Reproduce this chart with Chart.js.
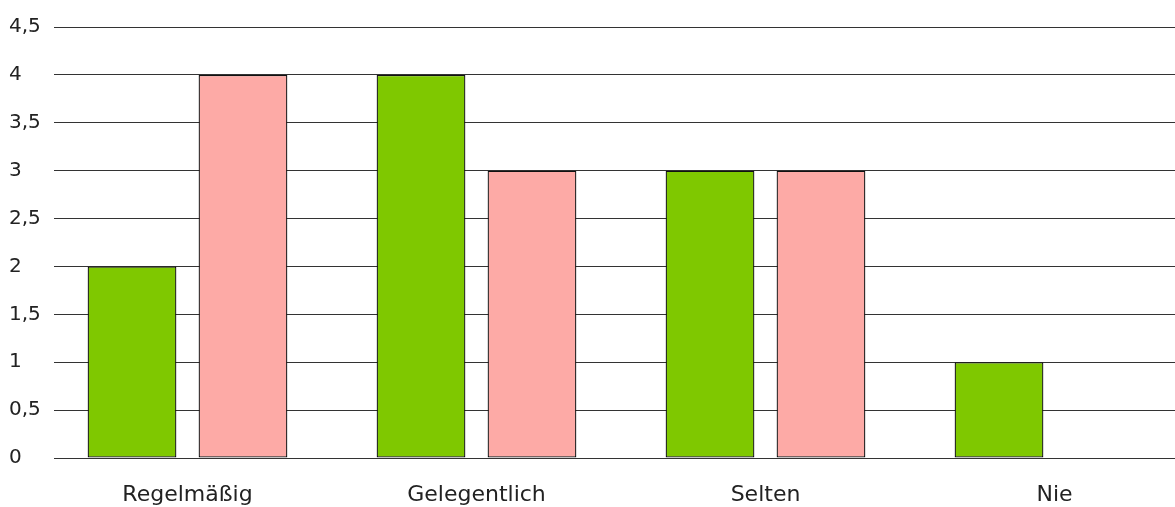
<!DOCTYPE html>
<html>
<head>
<meta charset="utf-8">
<script src="https://cdn.jsdelivr.net/npm/chart.js@4"></script>
<style>
  html, body { margin: 0; padding: 0; background: #fff; overflow: hidden; }
  #wrap { width: 1200px; height: 507px; }
</style>
</head>
<body>
<div id="wrap"><canvas id="barChart"></canvas></div>
<script>
// categories and values
const categories = ["Regelmäßig", "Gelegentlich", "Selten", "Nie"];
const greenValues = [2, 4, 3, 1];
const pinkValues = [4, 3, 3, 0];
const yTickLabels = ["0", "0,5", "1", "1,5", "2", "2,5", "3", "3,5", "4", "4,5"];

// grid lines start a bit right of the plot edge, leave a blank strip there
const gridInset = {
    id: 'gridInset',
    beforeDatasetsDraw(chart) {
        const { ctx, chartArea } = chart;
        ctx.save();
        ctx.fillStyle = '#fff';
        ctx.fillRect(chartArea.left - 1, chartArea.top - 2, 12, chartArea.bottom - chartArea.top + 4);
        ctx.restore();
    }
};

new Chart(document.getElementById('barChart'), {
    type: 'bar',
    data: {
        labels: categories,
        datasets: [
            {
                label: "Serie 1",
                data: greenValues,
                backgroundColor: "#7fc800",
                borderColor: "#111",
                borderWidth: 1.3,
                borderSkipped: false
            },
            {
                label: "Serie 2",
                data: pinkValues,
                backgroundColor: "#fdaaa6",
                borderColor: "#111",
                borderWidth: 1.3,
                borderSkipped: false
            }
        ]
    },
    options: {
        responsive: true,
        maintainAspectRatio: false,
        animation: false,
        categoryPercentage: 0.768,
        barPercentage: 0.8,
        layout: { padding: { left: 9, top: 27, right: 1, bottom: 0 } },
        plugins: {
            legend: { display: false },
            tooltip: { enabled: false }
        },
        scales: {
            x: {
                grid: { display: false, drawTicks: false },
                border: { display: false },
                ticks: {
                    padding: 24,
                    color: "#222",
                    font: { family: "DejaVu Sans", size: 22 },
                    maxRotation: 0
                },
                afterFit: (scale) => { scale.height = 49; }
            },
            y: {
                min: 0,
                max: 4.5,
                border: { display: false },
                grid: { color: "#333", lineWidth: 1, drawTicks: false },
                ticks: {
                    stepSize: 0.5,
                    crossAlign: 'far',
                    color: "#222",
                    font: { family: "DejaVu Sans", size: 20 },
                    callback: (value, index) => yTickLabels[index]
                },
                afterFit: (scale) => { scale.width = 34; }
            }
        }
    },
    plugins: [gridInset]
});
</script>
</body>
</html>
